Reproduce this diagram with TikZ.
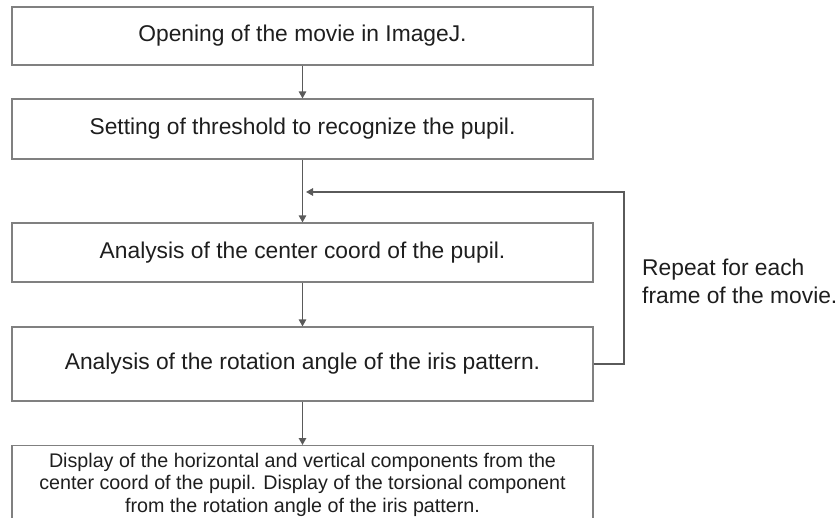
\documentclass[tikz,border=0pt]{standalone}
\usepackage{fontspec}
\setmainfont{Liberation Sans}
\usetikzlibrary{arrows.meta}
\definecolor{boxgray}{HTML}{808080}
\definecolor{arrgray}{HTML}{5A5A5A}
\definecolor{txt}{HTML}{1E1E1E}
\begin{document}
\begin{tikzpicture}[x=1pt,y=-1pt,
  box/.style={draw=boxgray,line width=1.2pt,minimum width=581pt,inner sep=0pt,text=txt,
    font=\fontsize{22.8}{26}\selectfont},
  smallbox/.style={draw=boxgray,line width=1.2pt,minimum width=581pt,inner xsep=0pt,inner ysep=7.5pt,
    text=txt,align=center,font=\fontsize{19.7}{22.5}\selectfont},
  note/.style={inner sep=0pt,text=txt,align=left,font=\fontsize{22.8}{28}\selectfont},
  arr/.style={draw=arrgray,line width=1.3pt,-{Triangle[length=7pt,width=7.5pt]}}]
\useasboundingbox (0,0) rectangle (840,518);
\clip (0,0) rectangle (840,518);
\node[box,minimum height=58pt] (b1) at (302.5,36) {Opening of the movie in ImageJ.};
\node[box,minimum height=60pt] (b2) at (302.5,129) {Setting of threshold to recognize the pupil.};
\node[box,minimum height=59pt] (b3) at (302.5,252.5) {Analysis of the center coord of the pupil.};
\node[box,minimum height=74pt] (b4) at (302.5,364) {Analysis of the rotation angle of the iris pattern.};
\node[smallbox,anchor=north] (b5) at (302.5,445) {Display of the horizontal and vertical components from the\\
center coord of the pupil. Display of the torsional component\\
from the rotation angle of the iris pattern.};
\node[note,anchor=north west] (rep) at (642,259) {Repeat for each\\frame of the movie.};
\coordinate (corner) at (624,192);
\coordinate (fb) at (306,192);
\draw[arr] (b1.south) -- (b2.north);
\draw[arr] (b2.south) -- (b3.north);
\draw[arr] (b3.south) -- (b4.north);
\draw[arr] (b4.south) -- (b5.north);
\draw[arr] (b4.east) -| (corner) -- (fb);
\end{tikzpicture}
\end{document}
